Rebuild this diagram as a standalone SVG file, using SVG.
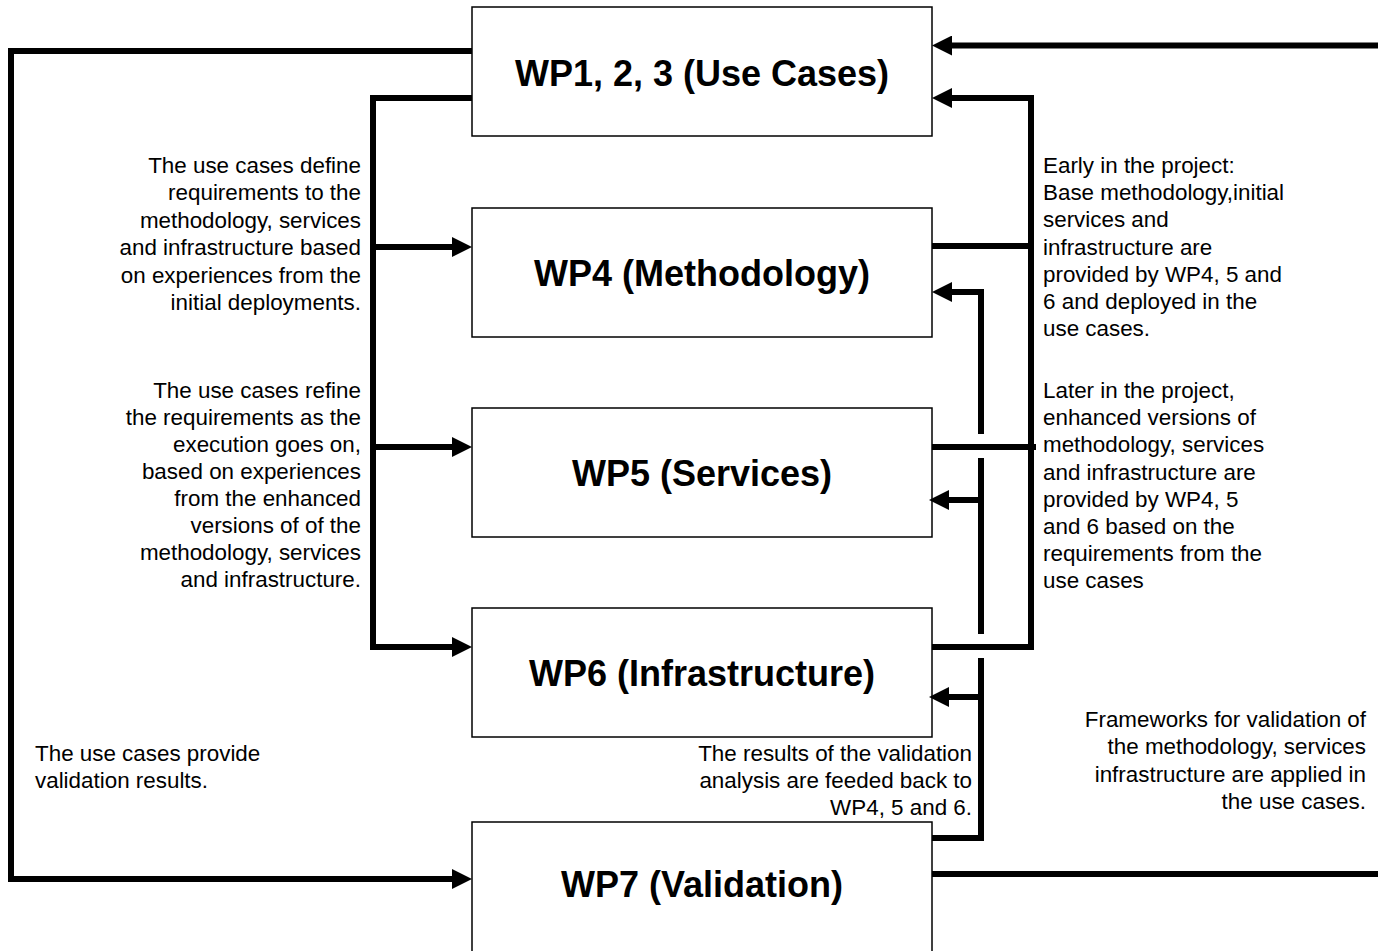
<svg xmlns="http://www.w3.org/2000/svg" width="1378" height="951" viewBox="0 0 1378 951">
<defs>
<style>
.box{fill:#fff;stroke:#000;stroke-width:1.5}
.title{font-family:"Liberation Sans",Arial,sans-serif;font-weight:bold;font-size:36px;fill:#000;text-anchor:middle}
.lbl{font-family:"Liberation Sans",Arial,sans-serif;font-size:22.4px;fill:#000}
.r{text-anchor:end}
.c{fill:none;stroke:#000;stroke-width:6;stroke-linejoin:miter;stroke-linecap:butt}
</style>
<marker id="arr" markerUnits="userSpaceOnUse" markerWidth="20" markerHeight="20" refX="8" refY="10" orient="auto">
<path d="M0,0 L20,10 L0,20 z" fill="#000"/>
</marker>
</defs>
<rect width="1378" height="951" fill="#fff"/>

<g id="wp1"><rect class="box" x="472" y="7" width="460" height="129"/><text class="title" x="702" y="86">WP1, 2, 3 (Use Cases)</text></g>
<g id="wp4"><rect class="box" x="472" y="208" width="460" height="129"/><text class="title" x="702" y="286">WP4 (Methodology)</text></g>
<g id="wp5"><rect class="box" x="472" y="408" width="460" height="129"/><text class="title" x="702" y="486">WP5 (Services)</text></g>
<g id="wp6"><rect class="box" x="472" y="608" width="460" height="129"/><text class="title" x="702" y="686">WP6 (Infrastructure)</text></g>
<g id="wp7"><rect class="box" x="472" y="822" width="460" height="132"/><text class="title" x="702" y="897">WP7 (Validation)</text></g>

<g id="connectors">
<path class="c" d="M472,51 H11 V879 H460" marker-end="url(#arr)"/>
<path class="c" d="M1378,45.5 H944" marker-end="url(#arr)"/>
<path class="c" d="M472,98 H373 V647 H460" marker-end="url(#arr)"/>
<path class="c" d="M373,247 H460" marker-end="url(#arr)"/>
<path class="c" d="M373,447 H460" marker-end="url(#arr)"/>
<path class="c" d="M932,647 H1031 V98 H944" marker-end="url(#arr)"/>
<path class="c" d="M932,246 H1031"/>
<path class="c" d="M932,447 H1036"/>
<path class="c" d="M932,838 H981 V658 M981,634 V458 M981,434 V292 H944" marker-end="url(#arr)"/>
<path class="c" d="M978,500 H941" marker-end="url(#arr)"/>
<path class="c" d="M978,697 H941" marker-end="url(#arr)"/>
<path class="c" d="M932,874 H1378"/>
</g>

<g id="labels">
<text class="lbl r" x="361" y="172.5">The use cases define</text>
<text class="lbl r" x="361" y="200">requirements to the</text>
<text class="lbl r" x="361" y="227.5">methodology, services</text>
<text class="lbl r" x="361" y="255">and infrastructure based</text>
<text class="lbl r" x="361" y="282.5">on experiences from the</text>
<text class="lbl r" x="361" y="310">initial deployments.</text>

<text class="lbl r" x="361" y="398">The use cases refine</text>
<text class="lbl r" x="361" y="425">the requirements as the</text>
<text class="lbl r" x="361" y="452">execution goes on,</text>
<text class="lbl r" x="361" y="479">based on experiences</text>
<text class="lbl r" x="361" y="506">from the enhanced</text>
<text class="lbl r" x="361" y="533">versions of of the</text>
<text class="lbl r" x="361" y="560">methodology, services</text>
<text class="lbl r" x="361" y="587">and infrastructure.</text>

<text class="lbl" x="1043" y="173">Early in the project:</text>
<text class="lbl" x="1043" y="200">Base methodology,initial</text>
<text class="lbl" x="1043" y="227">services and</text>
<text class="lbl" x="1043" y="254.5">infrastructure are</text>
<text class="lbl" x="1043" y="281.5">provided by WP4, 5 and</text>
<text class="lbl" x="1043" y="309">6 and deployed in the</text>
<text class="lbl" x="1043" y="336">use cases.</text>

<text class="lbl" x="1043" y="398">Later in the project,</text>
<text class="lbl" x="1043" y="425">enhanced versions of</text>
<text class="lbl" x="1043" y="452">methodology, services</text>
<text class="lbl" x="1043" y="479.5">and infrastructure are</text>
<text class="lbl" x="1043" y="506.5">provided by WP4, 5</text>
<text class="lbl" x="1043" y="534">and 6 based on the</text>
<text class="lbl" x="1043" y="561">requirements from the</text>
<text class="lbl" x="1043" y="588">use cases</text>

<text class="lbl" x="35" y="761">The use cases provide</text>
<text class="lbl" x="35" y="788">validation results.</text>

<text class="lbl r" x="972" y="761">The results of the validation</text>
<text class="lbl r" x="972" y="788">analysis are feeded back to</text>
<text class="lbl r" x="972" y="815">WP4, 5 and 6.</text>

<text class="lbl r" x="1366" y="727">Frameworks for validation of</text>
<text class="lbl r" x="1366" y="754">the methodology, services</text>
<text class="lbl r" x="1366" y="781.5">infrastructure are applied in</text>
<text class="lbl r" x="1366" y="809">the use cases.</text>
</g>
</svg>
